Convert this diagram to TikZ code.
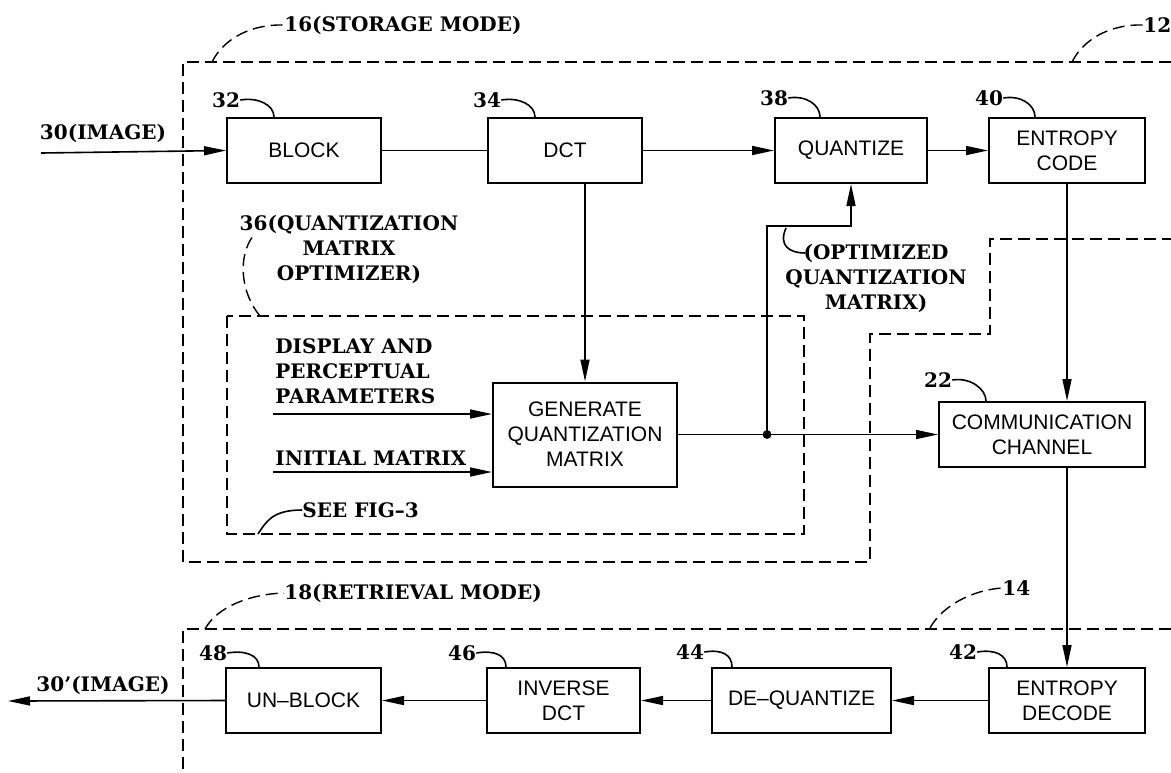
\documentclass[tikz,border=0pt]{standalone}
\usepackage{fontspec}
\setmainfont{DejaVu Serif}
\setsansfont{Liberation Sans}
\usetikzlibrary{arrows.meta, positioning, calc}
\tikzset{
    blk/.style={draw, line width=1pt, fill=white, align=center, inner sep=1pt,
        font=\sffamily\fontsize{10.5}{12.5}\selectfont, minimum height=32.5pt},
    lbl/.style={font=\bfseries\fontsize{10}{12.5}\selectfont, inner sep=0pt, align=center},
    bnd/.style={line width=0.7pt, dash pattern=on 6pt off 3pt},
    ldr/.style={line width=0.8pt},
    sig/.style={line width=0.8pt},
    arr/.style={sig, -{Triangle[length=11pt,width=4.5pt]}}
}

\begin{document}
\begin{tikzpicture}[x=0.5pt, y=-0.5pt]
    \useasboundingbox (0,0) rectangle (1171,772);
    % mode boundaries
    \draw[bnd] (1171,62) -- (183,62) -- (183,562) -- (870,562) -- (870,334)
        -- (990,334) -- (990,239) -- (1171,239);
    \draw[bnd] (1171,629) -- (183,629) -- (183,772);
    \draw[bnd] (227,316) rectangle (804,534);
    % storage blocks
    \node[blk, minimum width=77pt] (block) at (304,150.5) {BLOCK};
    \node[blk, minimum width=77pt] (dct) at (565,150.5) {DCT};
    \node[blk, minimum width=76pt] (quant) at (851,150.5) {QUANTIZE};
    \node[blk, minimum width=78pt] (ecode) at (1067,150.5) {ENTROPY\\CODE};
    \node[blk, minimum width=92pt, minimum height=52pt] (genq) at (585,434.5) {GENERATE\\QUANTIZATION\\MATRIX};
    \node[blk, minimum width=103pt] (chan) at (1042,434.5) {COMMUNICATION\\CHANNEL};
    % retrieval blocks
    \node[blk, minimum width=78pt] (edec) at (1067,700.5) {ENTROPY\\DECODE};
    \node[blk, minimum width=89.5pt] (dequant) at (801.5,700.5) {DE--QUANTIZE};
    \node[blk, minimum width=76.5pt] (idct) at (563.5,700.5) {INVERSE\\DCT};
    \node[blk, minimum width=77.5pt] (unblock) at (303.5,700.5) {UN--BLOCK};
    % mode labels
    \node[lbl, anchor=west] (n16) at (284,25) {16(STORAGE MODE)};
    \draw[bnd] (212,62) .. controls (224,38) and (252,24) .. (n16.west);
    \node[lbl, anchor=west] (n12) at (1143,25) {12};
    \draw[bnd] (1072,62) .. controls (1084,38) and (1112,24) .. (n12.west);
    \node[lbl, anchor=west] (n18) at (284,593) {18(RETRIEVAL MODE)};
    \draw[bnd] (205,629) .. controls (217,607) and (250,594) .. (n18.west);
    \node[lbl, anchor=west] (n14) at (1002,588) {14};
    \draw[bnd] (930,628) .. controls (942,606) and (972,590) .. (n14.west);
    \node[lbl] (n36) at (349,249) {36(QUANTIZATION\\MATRIX\\OPTIMIZER)};
    \draw[bnd] (260,316) .. controls (240,292) and (238,256) .. (253,236);
    % reference numbers
    \node[lbl] (n32) at (226,100) {32};
    \draw[ldr] (n32.east) .. controls +(18,-3) and +(0,-12) .. ($(block.north west)+(48,0)$);
    \node[lbl] (n34) at (487,100) {34};
    \draw[ldr] (n34.east) .. controls +(18,-3) and +(0,-12) .. ($(dct.north west)+(48,0)$);
    \node[lbl] (n38) at (774,98) {38};
    \draw[ldr] (n38.east) .. controls +(18,-3) and +(0,-12) .. ($(quant.north west)+(46,0)$);
    \node[lbl] (n40) at (989,98) {40};
    \draw[ldr] (n40.east) .. controls +(18,-3) and +(0,-12) .. ($(ecode.north west)+(47,0)$);
    \node[lbl] (n22) at (938,380) {22};
    \draw[ldr] (n22.east) .. controls +(18,-3) and +(0,-12) .. ($(chan.north west)+(48,0)$);
    \node[lbl] (n48) at (213,653) {48};
    \draw[ldr] (n48.east) .. controls +(18,-3) and +(0,-12) .. ($(unblock.north west)+(34,0)$);
    \node[lbl] (n46) at (462,653) {46};
    \draw[ldr] (n46.east) .. controls +(18,-3) and +(0,-12) .. ($(idct.north west)+(20,0)$);
    \node[lbl] (n44) at (690,652) {44};
    \draw[ldr] (n44.east) .. controls +(18,-3) and +(0,-12) .. ($(dequant.north west)+(21,0)$);
    \node[lbl] (n42) at (963,652) {42};
    \draw[ldr] (n42.east) .. controls +(18,-3) and +(0,-12) .. ($(edec.north west)+(19,0)$);
    % image in and out
    \node[lbl] (imgin) at (103,133) {30(IMAGE)};
    \coordinate (src) at (41,153);
    \draw[arr] (src) -- (block.west);
    \node[lbl] (imgout) at (103,685) {30'(IMAGE)};
    \coordinate (dst) at (8,701);
    % optimizer inputs
    \node[lbl, anchor=west, align=left] (dpp) at (275,371) {DISPLAY AND\\PERCEPTUAL\\PARAMETERS};
    \node[lbl, anchor=west] (initm) at (275,458) {INITIAL MATRIX};
    \coordinate (dppin) at (273,414);
    \coordinate (imin) at (273,472);
    \draw[arr] (dppin) -- (dppin -| genq.west);
    \draw[arr] (imin) -- (imin -| genq.west);
    \node[lbl, anchor=west] (fig3) at (302,510) {SEE FIG--3};
    \draw[ldr] (258,534) .. controls (266,522) and (272,510) .. (fig3.west);
    % storage signal flow
    \draw[sig] (block.east) -- (dct.west);
    \draw[arr] (dct.east) -- (quant.west);
    \draw[arr] (quant.east) -- (ecode.west);
    \draw[arr] (genq.north |- dct.south) -- (genq.north);
    \coordinate (jn) at (767,434.5);
    \coordinate (bend) at (767,226);
    \draw[arr] (genq.east) -- (chan.west);
    \fill (jn) circle (2.2pt);
    \draw[arr] (jn) -- (bend) -| (quant.south);
    \node[lbl] (optq) at (876,278) {(OPTIMIZED\\QUANTIZATION\\MATRIX)};
    \coordinate (optl) at (805,253);
    \draw[ldr] (786,228) .. controls (778,246) and (790,253) .. (optl);
    \draw[arr] (ecode.south) -- (ecode.south |- chan.north);
    % retrieval signal flow
    \draw[arr] (chan.south -| edec.north) -- (edec.north);
    \draw[arr] (edec.west) -- (dequant.east);
    \draw[arr] (dequant.west) -- (idct.east);
    \draw[arr] (idct.west) -- (unblock.east);
    \draw[arr] (unblock.west) -- (dst);
\end{tikzpicture}
\end{document}
